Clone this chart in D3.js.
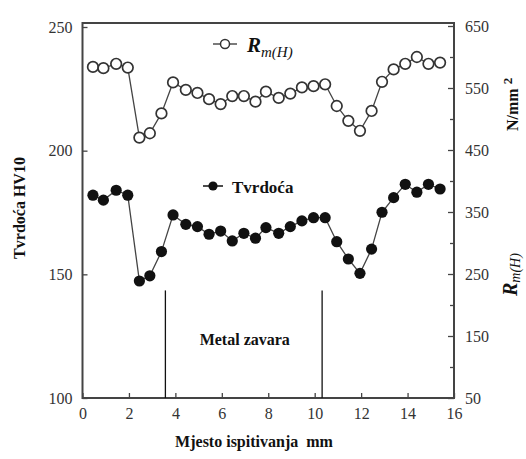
<!DOCTYPE html>
<html>
<head>
<meta charset="utf-8">
<script src="https://cdn.jsdelivr.net/npm/d3@7"></script>
<style>
  body { margin: 0; background: #fff; }
  svg { display: block; }
</style>
</head>
<body>
<div id="chart"></div>
<script>
// position along the sample (mm)
var positions = [0.45, 0.9, 1.45, 1.95, 2.45, 2.9, 3.4, 3.9, 4.45, 4.95, 5.45, 5.95, 6.45, 6.95, 7.45, 7.9,
                 8.45, 8.95, 9.45, 9.95, 10.45, 10.95, 11.45, 11.95, 12.45, 12.9, 13.4, 13.9, 14.4, 14.9, 15.4];

// Rm(H) N/mm2 (right axis)
var rmH = [584, 582, 589, 583, 470, 477, 509, 559, 547, 542, 532, 524, 537, 537, 528, 544,
           534, 541, 551, 553, 556, 521, 497, 481, 513, 560, 580, 589, 600, 589, 591];

// Tvrdoca HV10 (left axis)
var hardness = [182, 180, 184, 182, 147.3, 149.4, 159.2, 174, 170.2, 169.3, 166.2, 167.5, 163.5, 166.6, 164.6, 168.9,
                166.6, 169.3, 171.6, 172.9, 172.9, 163.2, 156.2, 150.4, 160.2, 175.1, 181, 186.4, 183.2, 186.4, 184.5];

// weld metal zone boundaries (mm)
var weldZone = [3.57, 10.32];

var xTicks = [0, 2, 4, 6, 8, 10, 12, 14, 16];
var leftTicks = [100, 150, 200, 250];
var rightTicks = [50, 150, 250, 350, 450, 550, 650];
var rightMinor = [100, 200, 300, 400, 500, 600];

var width = 526;
var height = 459;
var serif = "'Liberation Serif', 'Times New Roman', Times, serif";

var svg = d3.select("#chart")
  .append("svg")
  .attr("width", width)
  .attr("height", height);

// scales
var x = d3.scaleLinear().domain([0, 16]).range([82.5, 454]);
var yL = d3.scaleLinear().domain([100, 250]).range([398, 27]);
var yR = d3.scaleLinear().domain([50, 650]).range([398, 26]);

// axes (ticks point inward)
var xAxis = d3.axisBottom(x).tickValues(xTicks).tickSize(-5).tickPadding(10).tickFormat(d3.format("d"));
var yAxisL = d3.axisLeft(yL).tickValues(leftTicks).tickSize(-5).tickPadding(10);
var yAxisR = d3.axisRight(yR).tickValues(rightTicks).tickSize(-6).tickPadding(11);
var yAxisRMinor = d3.axisRight(yR).tickValues(rightMinor).tickSize(-4).tickFormat("");

function styleAxis(g) {
  g.attr("font-family", null);
  g.select(".domain").remove();
  g.selectAll("line").attr("stroke", "#444").attr("stroke-width", 1.3);
  g.selectAll("text")
    .attr("font-family", serif)
    .style("font-family", serif)
    .style("font-size", "16px")
    .attr("fill", "#333");
}

svg.append("g")
  .attr("transform", "translate(0," + 398 + ")")
  .call(xAxis)
  .call(styleAxis);

svg.append("g")
  .attr("transform", "translate(82.5,0)")
  .call(yAxisL)
  .call(styleAxis);

svg.append("g")
  .attr("transform", "translate(454,0)")
  .call(yAxisR)
  .call(styleAxis);

svg.append("g")
  .attr("transform", "translate(454,0)")
  .call(yAxisRMinor)
  .call(styleAxis);

// frame
svg.append("rect")
  .attr("x", x(0))
  .attr("y", 23)
  .attr("width", x(16) - x(0))
  .attr("height", 398 - 23)
  .attr("fill", "none")
  .attr("stroke", "#444")
  .attr("stroke-width", 2);

// weld metal boundaries
svg.selectAll(".zone")
  .data(weldZone)
  .enter()
  .append("line")
  .attr("class", "zone")
  .attr("x1", d => x(d))
  .attr("x2", d => x(d))
  .attr("y1", yL(143.5))
  .attr("y2", yL(100))
  .attr("stroke", "#111")
  .attr("stroke-width", 1.3);

svg.append("text")
  .attr("x", x(d3.mean(weldZone)) + 1)
  .attr("y", 345)
  .attr("text-anchor", "middle")
  .text("Metal zavara")
  .style("font-family", serif)
  .style("font-size", "16px")
  .style("font-weight", "bold")
  .attr("fill", "#111");

// lines
var rmLine = d3.line()
  .x((d, i) => x(positions[i]))
  .y(d => yR(d));

var hvLine = d3.line()
  .x((d, i) => x(positions[i]))
  .y(d => yL(d));

svg.append("path")
  .datum(rmH)
  .attr("d", rmLine)
  .attr("fill", "none")
  .attr("stroke", "#444")
  .attr("stroke-width", 1.3);

svg.append("path")
  .datum(hardness)
  .attr("d", hvLine)
  .attr("fill", "none")
  .attr("stroke", "#444")
  .attr("stroke-width", 1.3);

// markers
svg.selectAll(".rm")
  .data(rmH)
  .enter()
  .append("circle")
  .attr("class", "rm")
  .attr("cx", (d, i) => x(positions[i]))
  .attr("cy", d => yR(d))
  .attr("r", 5.3)
  .attr("fill", "#fff")
  .attr("stroke", "#333")
  .attr("stroke-width", 1.7);

svg.selectAll(".hv")
  .data(hardness)
  .enter()
  .append("circle")
  .attr("class", "hv")
  .attr("cx", (d, i) => x(positions[i]))
  .attr("cy", d => yL(d))
  .attr("r", 5.6)
  .attr("fill", "#111");

// legend: Rm(H)
svg.append("line")
  .attr("x1", 213).attr("x2", 237)
  .attr("y1", 44).attr("y2", 44)
  .attr("stroke", "#333").attr("stroke-width", 1.3);

svg.append("circle")
  .attr("cx", 225).attr("cy", 44).attr("r", 4.5)
  .attr("fill", "#fff").attr("stroke", "#333").attr("stroke-width", 1.5);

var legRm = svg.append("text")
  .attr("x", 247)
  .attr("y", 52)
  .style("font-family", serif)
  .attr("fill", "#111");
legRm.append("tspan")
  .text("R")
  .style("font-size", "21px")
  .style("font-weight", "bold")
  .style("font-style", "italic");
legRm.append("tspan")
  .attr("dy", 5)
  .text("m(H)")
  .style("font-size", "15px")
  .style("font-style", "italic");

// legend: Tvrdoca
svg.append("line")
  .attr("x1", 203).attr("x2", 223)
  .attr("y1", 186).attr("y2", 186)
  .attr("stroke", "#111").attr("stroke-width", 1.5);

svg.append("circle")
  .attr("cx", 213).attr("cy", 186).attr("r", 4.6)
  .attr("fill", "#111");

svg.append("text")
  .attr("x", 232)
  .attr("y", 193)
  .text("Tvrdoća")
  .style("font-family", serif)
  .style("font-size", "17px")
  .style("font-weight", "bold")
  .attr("fill", "#111");

// axis titles
svg.append("text")
  .attr("transform", "translate(25,208) rotate(-90)")
  .attr("text-anchor", "middle")
  .text("Tvrdoća HV10")
  .style("font-family", serif)
  .style("font-size", "16px")
  .style("font-weight", "bold")
  .attr("fill", "#111");

svg.append("text")
  .attr("x", 254)
  .attr("y", 447)
  .attr("text-anchor", "middle")
  .text("Mjesto ispitivanja  mm")
  .style("font-family", serif)
  .style("font-size", "16px")
  .style("font-weight", "bold")
  .style("white-space", "pre")
  .attr("fill", "#111");

var rTitle = svg.append("text")
  .attr("transform", "translate(517,296) rotate(-90)")
  .style("font-family", serif)
  .attr("fill", "#111");
rTitle.append("tspan")
  .text("R")
  .style("font-size", "20px")
  .style("font-weight", "bold")
  .style("font-style", "italic");
rTitle.append("tspan")
  .attr("dy", 3)
  .text("m(H)")
  .style("font-size", "14px")
  .style("font-style", "italic");

var nTitle = svg.append("text")
  .attr("transform", "translate(518,131) rotate(-90)")
  .style("font-family", serif)
  .style("font-weight", "bold")
  .attr("fill", "#111");
nTitle.append("tspan")
  .text("N/mm")
  .style("font-size", "16px");
nTitle.append("tspan")
  .attr("dx", 4)
  .attr("dy", -6)
  .text("2")
  .style("font-size", "13px");
</script>
</body>
</html>
